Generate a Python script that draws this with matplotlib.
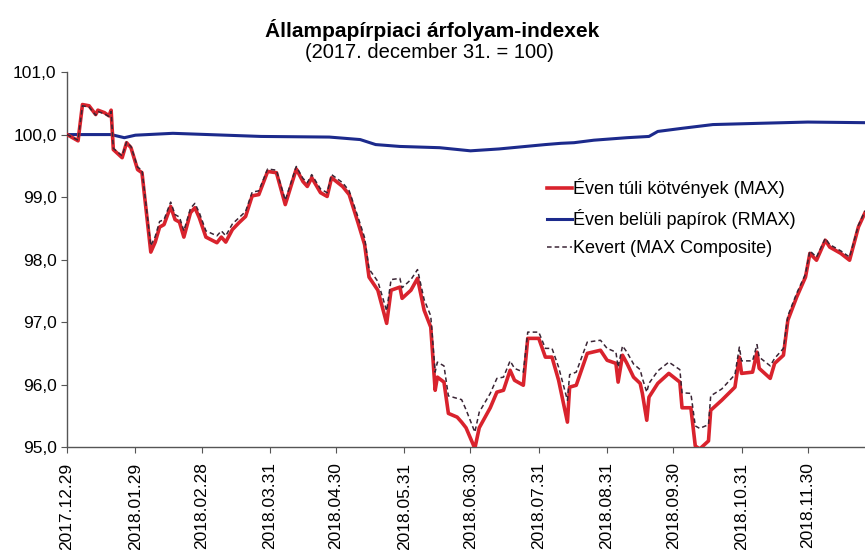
import matplotlib
matplotlib.use("Agg")
import matplotlib.pyplot as plt
import matplotlib.ticker as mticker
import pandas as pd

plt.rcParams['font.family'] = ['Liberation Sans', 'DejaVu Sans']

# Éven túli kötvények (MAX) and Kevert (MAX Composite), same dates
max_dates = [
    "2017-12-29", "2018-01-03", "2018-01-05", "2018-01-08", "2018-01-11", "2018-01-12",
    "2018-01-15", "2018-01-17", "2018-01-18", "2018-01-19", "2018-01-23", "2018-01-25",
    "2018-01-27", "2018-01-30", "2018-02-01", "2018-02-05", "2018-02-07", "2018-02-09",
    "2018-02-11", "2018-02-14", "2018-02-16", "2018-02-18", "2018-02-20", "2018-02-23",
    "2018-02-25", "2018-02-27", "2018-03-02", "2018-03-07", "2018-03-09", "2018-03-11",
    "2018-03-14", "2018-03-17", "2018-03-20", "2018-03-23", "2018-03-26", "2018-03-30",
    "2018-04-03", "2018-04-07", "2018-04-12", "2018-04-15", "2018-04-17", "2018-04-19",
    "2018-04-23", "2018-04-26", "2018-04-28", "2018-05-03", "2018-05-06", "2018-05-10",
    "2018-05-13", "2018-05-15", "2018-05-19", "2018-05-23", "2018-05-25", "2018-05-29",
    "2018-05-30", "2018-06-03", "2018-06-06", "2018-06-09", "2018-06-12", "2018-06-14",
    "2018-06-15", "2018-06-18", "2018-06-20", "2018-06-24", "2018-06-26", "2018-06-28",
    "2018-07-02", "2018-07-04", "2018-07-09", "2018-07-12", "2018-07-15", "2018-07-18",
    "2018-07-20", "2018-07-24", "2018-07-26", "2018-07-31", "2018-08-03", "2018-08-06",
    "2018-08-09", "2018-08-13", "2018-08-14", "2018-08-17", "2018-08-22", "2018-08-28",
    "2018-08-31", "2018-09-04", "2018-09-05", "2018-09-07", "2018-09-09", "2018-09-12",
    "2018-09-15", "2018-09-16", "2018-09-18", "2018-09-19", "2018-09-23", "2018-09-28",
    "2018-10-03", "2018-10-04", "2018-10-08", "2018-10-10", "2018-10-12", "2018-10-16",
    "2018-10-17", "2018-10-22", "2018-10-28", "2018-10-30", "2018-10-31", "2018-11-05",
    "2018-11-07", "2018-11-08", "2018-11-13", "2018-11-15", "2018-11-19", "2018-11-21",
    "2018-11-25", "2018-11-29", "2018-12-01", "2018-12-04", "2018-12-08", "2018-12-10",
    "2018-12-15", "2018-12-19", "2018-12-23", "2018-12-26",
]
max_vals = [
    100.00, 99.90, 100.48, 100.46, 100.32, 100.39, 100.35, 100.30, 100.39, 99.76,
    99.63, 99.87, 99.79, 99.44, 99.39, 98.12, 98.28, 98.52, 98.56, 98.85,
    98.64, 98.60, 98.36, 98.75, 98.83, 98.67, 98.36, 98.27, 98.36, 98.28,
    98.48, 98.59, 98.69, 99.02, 99.04, 99.41, 99.39, 98.88, 99.45, 99.25,
    99.17, 99.31, 99.07, 99.01, 99.31, 99.17, 99.04, 98.59, 98.24, 97.72,
    97.51, 96.98, 97.51, 97.56, 97.38, 97.51, 97.70, 97.19, 96.92, 95.91,
    96.12, 96.04, 95.54, 95.48, 95.40, 95.31, 94.98, 95.31, 95.63, 95.88,
    95.91, 96.23, 96.07, 95.99, 96.74, 96.74, 96.44, 96.44, 96.07, 95.40,
    95.96, 95.99, 96.50, 96.55, 96.39, 96.34, 96.04, 96.47, 96.34, 96.12,
    96.02, 95.86, 95.43, 95.80, 96.02, 96.18, 96.04, 95.63, 95.63, 95.02,
    94.97, 95.10, 95.59, 95.75, 95.96, 96.44, 96.18, 96.20, 96.52, 96.26,
    96.10, 96.34, 96.47, 97.03, 97.40, 97.72, 98.10, 97.99, 98.31, 98.20,
    98.10, 97.99, 98.52, 98.75,
]
composite_vals = [
    100.00, 99.91, 100.46, 100.44, 100.31, 100.37, 100.33, 100.29, 100.37, 99.78,
    99.66, 99.88, 99.81, 99.48, 99.43, 98.22, 98.37, 98.61, 98.64, 98.92,
    98.72, 98.68, 98.46, 98.82, 98.90, 98.75, 98.46, 98.38, 98.46, 98.38,
    98.57, 98.67, 98.77, 99.08, 99.10, 99.45, 99.43, 98.95, 99.49, 99.30,
    99.23, 99.36, 99.13, 99.07, 99.36, 99.23, 99.10, 98.68, 98.35, 97.85,
    97.65, 97.18, 97.68, 97.70, 97.55, 97.68, 97.84, 97.36, 97.10, 96.20,
    96.36, 96.30, 95.82, 95.78, 95.76, 95.60, 95.24, 95.56, 95.86, 96.10,
    96.12, 96.38, 96.26, 96.20, 96.84, 96.84, 96.58, 96.58, 96.28, 95.75,
    96.16, 96.20, 96.68, 96.71, 96.58, 96.52, 96.28, 96.62, 96.52, 96.33,
    96.24, 96.10, 95.88, 96.02, 96.22, 96.36, 96.24, 95.87, 95.86, 95.34,
    95.30, 95.36, 95.82, 95.93, 96.16, 96.60, 96.38, 96.38, 96.64, 96.44,
    96.30, 96.42, 96.58, 97.10, 97.46, 97.77, 98.14, 98.04, 98.34, 98.24,
    98.14, 98.04, 98.55, 98.78,
]

# Éven belüli papírok (RMAX)
rmax_dates = [
    "2017-12-29", "2018-01-18", "2018-01-24", "2018-01-29", "2018-02-15", "2018-03-27",
    "2018-04-27", "2018-05-11", "2018-05-18", "2018-05-29", "2018-06-16", "2018-06-30",
    "2018-07-13", "2018-07-22", "2018-08-03", "2018-08-10", "2018-08-16", "2018-08-25",
    "2018-09-09", "2018-09-19", "2018-09-23", "2018-10-04", "2018-10-18", "2018-11-08",
    "2018-11-30", "2018-12-26",
]
rmax_vals = [
    100.00, 100.00, 99.95, 99.99, 100.02, 99.97, 99.96, 99.92, 99.84, 99.81,
    99.79, 99.74, 99.77, 99.80, 99.84, 99.86, 99.87, 99.91, 99.95, 99.97,
    100.05, 100.10, 100.16, 100.18, 100.20, 100.19,
]

tick_dates = [
    "2017-12-29", "2018-01-29", "2018-02-28", "2018-03-31", "2018-04-30", "2018-05-31",
    "2018-06-30", "2018-07-31", "2018-08-31", "2018-09-30", "2018-10-31", "2018-11-30",
]

max_x = pd.to_datetime(max_dates)
rmax_x = pd.to_datetime(rmax_dates)
ticks = pd.to_datetime(tick_dates)

fig = plt.figure(figsize=(8.65, 5.5), dpi=100)
ax = fig.add_axes([0.0775, 0.187, 0.9225, 0.682])

ax.plot(rmax_x, rmax_vals, color='#1c2a8c', lw=2.2, label='Éven belüli papírok (RMAX)', zorder=2)
ax.plot(max_x, max_vals, color='#d9232d', lw=2.6, label='Éven túli kötvények (MAX)', zorder=3)
ax.plot(max_x, composite_vals, color='#3a2535', lw=1.1, ls=(0, (3, 2)),
        label='Kevert (MAX Composite)', zorder=4)

ax.set_ylim(95, 101)
ax.set_xlim(pd.Timestamp("2017-12-29"), pd.Timestamp("2018-12-26"))
ax.set_yticks([95, 96, 97, 98, 99, 100, 101])
ax.yaxis.set_major_formatter(mticker.FuncFormatter(lambda v, p: f"{v:.1f}".replace('.', ',')))
ax.set_xticks(ticks)
ax.set_xticklabels([t.strftime('%Y.%m.%d') for t in ticks], rotation=90)
ax.tick_params(axis='both', labelsize=12.5, direction='out', length=4, color='#555555')
ax.tick_params(axis='x', pad=7)

for side in ['top', 'right']:
    ax.spines[side].set_visible(False)
for side in ['left', 'bottom']:
    ax.spines[side].set_color('#555555')
    ax.spines[side].set_linewidth(1.0)

h, l = ax.get_legend_handles_labels()
order = [1, 0, 2]
ax.legend([h[i] for i in order], [l[i] for i in order], loc='upper left',
          bbox_to_anchor=(0.624, 0.689), bbox_transform=fig.transFigure,
          frameon=False, fontsize=13, handlelength=1.4, handletextpad=0.05,
          labelspacing=0.6, borderaxespad=0)

fig.text(0.499, 0.945, 'Állampapírpiaci árfolyam-indexek', ha='center', va='center',
         fontsize=15, fontweight='bold')
fig.text(0.496, 0.905, '(2017. december 31. = 100)', ha='center', va='center', fontsize=14.5)

plt.savefig('out.png', dpi=100)
